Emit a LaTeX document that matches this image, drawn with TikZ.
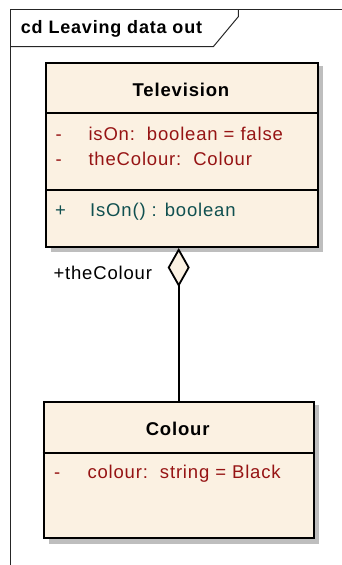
\documentclass[tikz,border=0pt]{standalone}
\usepackage{fontspec}
\setmainfont{Liberation Sans}[LetterSpace=4.5]
\usetikzlibrary{arrows.meta}
\definecolor{classfill}{RGB}{251,241,226}
\definecolor{attrred}{RGB}{150,20,20}
\definecolor{optteal}{RGB}{16,80,80}
\definecolor{shadowgray}{RGB}{190,190,190}
\newcommand{\umlfont}{\fontsize{18.5}{22}\selectfont}
\tikzset{
  framelines/.style={line width=1pt, draw=black!85},
  classbox/.style={draw=black, line width=2pt, fill=classfill, rectangle, inner sep=0pt},
  sepline/.style={line width=2pt, draw=black},
  titletext/.style={anchor=base, inner sep=0pt, font=\umlfont\bfseries},
  attrtext/.style={anchor=base west, inner sep=0pt, text=attrred},
  opertext/.style={anchor=base west, inner sep=0pt, text=optteal},
  roletext/.style={anchor=base west, inner sep=0pt, text=black},
  aggr/.style={line width=1.8pt, draw=black,
    -{Diamond[length=39pt, width=22pt, fill=classfill, line width=1.8pt]}},
}
\begin{document}
\begin{tikzpicture}[x=1pt, y=-1pt, font=\umlfont]
\useasboundingbox (0,0) rectangle (342,565);
% diagram frame
\draw[framelines] (342,9) -- (10,9) -- (10,566);
\draw[framelines] (10,46.7) -- (213.3,46.7) -- (238.3,16.7) -- (238.3,9);
\node[anchor=base west, inner sep=0pt, font=\fontsize{18}{22}\selectfont\bfseries] (frametitle) at (20.7,33.3) {cd Leaving data out};
% Television class
\fill[shadowgray] (51,66) rectangle (323,252);
\node[classbox, anchor=north west, minimum width=271.7pt, minimum height=184.3pt] (tv) at (45,61.7) {};
\draw[sepline] (tv.west |- 0,113.3) -- (tv.east |- 0,113.3);
\draw[sepline] (tv.west |- 0,190) -- (tv.east |- 0,190);
\node[titletext] (tvname) at (181,96.7) {Television};
\node[attrtext] (tva1m) at (55.5,140) {-};
\node[attrtext] (tva1) at (88.3,140) {isOn:\ \ boolean = false};
\node[attrtext] (tva2m) at (55.5,165) {-};
\node[attrtext] (tva2) at (88.3,165) {theColour:\ \ Colour};
\node[opertext] (tvo1m) at (55,216.7) {+};
\node[opertext] (tvo1) at (90,216.7) {IsOn() : boolean};
% Colour class
\fill[shadowgray] (48.7,405) rectangle (319.3,544);
\node[classbox, anchor=north west, minimum width=270pt, minimum height=136pt] (col) at (42.7,400.7) {};
\draw[sepline] (col.west |- 0,452.7) -- (col.east |- 0,452.7);
\node[titletext] (colname) at (177.7,435) {Colour};
\node[attrtext] (cola1m) at (54,478) {-};
\node[attrtext] (cola1) at (87.3,478) {colour:\ \ string = Black};
% aggregation
\draw[aggr] (col.north) -- (col.north |- tv.south);
\node[roletext] (role) at (53.3,279) {+theColour};
\end{tikzpicture}
\end{document}
